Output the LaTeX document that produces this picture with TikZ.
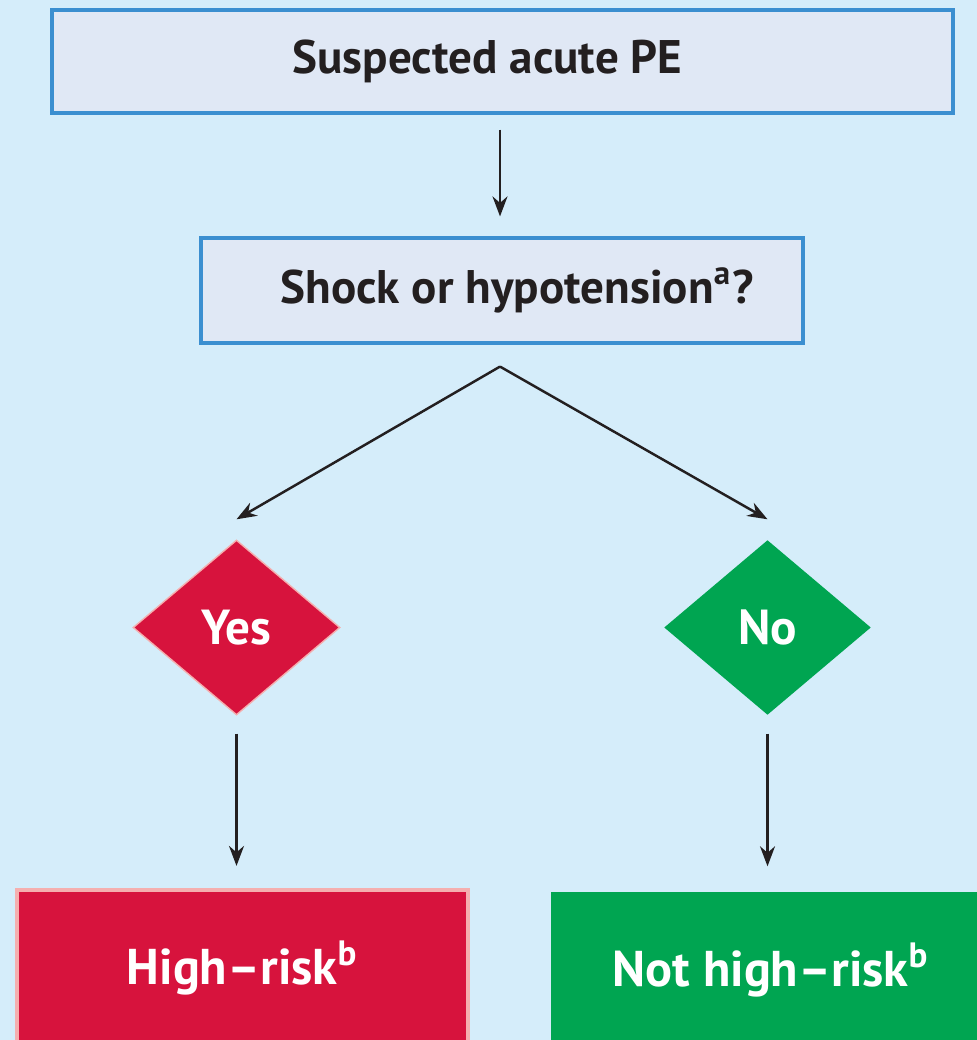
\documentclass[tikz,border=0pt]{standalone}
\usepackage{fontspec}
\setmainfont{PT Sans}
\usepackage{tikz}
\usetikzlibrary{shapes.geometric, positioning, arrows.meta}
\definecolor{bgblue}{RGB}{213,237,250}
\definecolor{boxfill}{RGB}{224,232,245}
\definecolor{boxline}{RGB}{59,143,208}
\definecolor{riskred}{RGB}{215,19,61}
\definecolor{riskgreen}{RGB}{0,165,81}
\definecolor{pinkline}{RGB}{245,175,175}
\definecolor{inkdark}{RGB}{35,31,32}
\tikzset{
    question/.style={ % Sets the properties for the light boxes
        rectangle,
        draw=boxline,
        line width=0.9pt,
        fill=boxfill,
        text=inkdark,
        font=\fontsize{13.4}{15}\selectfont\bfseries
    },
    answer/.style={ % Yes / No diamonds
        diamond,
        aspect=1.18,
        minimum width=2.07cm,
        minimum height=1.75cm,
        inner sep=0pt,
        text=white,
        font=\fontsize{14}{16}\selectfont\bfseries
    },
    outcome/.style={ % Coloured boxes at the bottom
        rectangle,
        minimum height=1.56cm,
        text=white,
        font=\fontsize{14.3}{16}\selectfont\bfseries
    },
    every edge/.style={ % Sets the properties for each arrow
        draw=inkdark,
        -{Stealth[length=0.2cm,width=0.15cm]},
        line width=0.7pt
    }
}

\begin{document}
\begin{tikzpicture}
            \useasboundingbox (0,0) rectangle (9.77,-10.40);
            \clip (0,0) rectangle (9.77,-10.40);
            \fill[bgblue] (0,0) rectangle (9.77,-10.40);

            \node[question, minimum width=9.01cm, minimum height=1.03cm]
                    (pe)    at (5.025,-0.615)   {\hspace*{-0.3cm}Suspected acute PE};
            \node[question, minimum width=6.02cm, minimum height=1.05cm]
                    (ask)   at (5.02,-2.905)    {\hspace*{0.3cm}Shock or hypotension\textsuperscript{a}?};
            \coordinate[below=0.22cm of ask.south, xshift=-0.02cm] (split);

            \node[answer, fill=riskred, draw=pinkline, thin]
                    (yes)   at (2.365,-6.275)   {Yes};
            \node[answer, fill=riskgreen]
                    (no)    at (7.675,-6.275)   {No};
            \coordinate[above=0.2cm of yes.north] (yestip);
            \coordinate[above=0.2cm of no.north]  (notip);

            \node[outcome, fill=riskred, draw=pinkline, line width=1.2pt, minimum width=4.51cm]
                    (high)  at (2.425,-9.68)    {High–risk\textsuperscript{b}};
            \node[outcome, fill=riskgreen, minimum width=4.5cm]
                    (nothigh) at (7.76,-9.70)   {\hspace*{-0.1cm}Not high–risk\textsuperscript{b}};

            \draw   (pe.south -| split)  edge[shorten <=0.15cm, shorten >=0.2cm]   (split |- ask.north)
                    (split) edge                                      (yestip)
                    (split) edge                                      (notip)
                    (yes.south) edge[shorten <=0.18cm, shorten >=0.22cm]  (yes.south |- high.north)
                    (no.south)  edge[shorten <=0.18cm, shorten >=0.25cm]  (no.south |- nothigh.north)
            ;
        \end{tikzpicture}
\end{document}
